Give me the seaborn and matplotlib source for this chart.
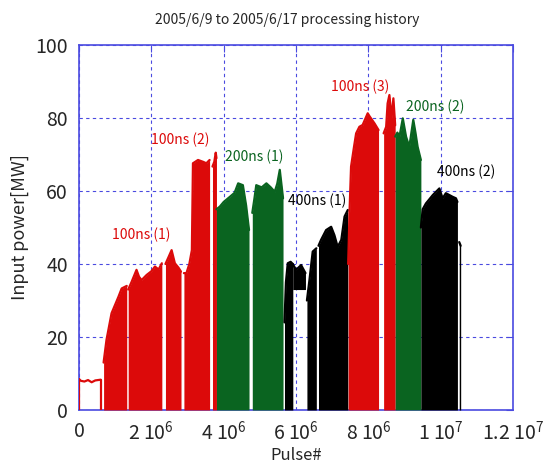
import matplotlib
matplotlib.use("Agg")
import matplotlib.pyplot as plt
import seaborn as sns
import pandas as pd

# envelope of each processing run
# x in units of 1e6 pulses, top = upper edge of the point cloud [MW]
run_names = ["R0", "R1", "R2", "R3", "R4", "R5", "G1a", "G1b",
             "B1a", "B1b", "B1c", "B1d", "R6", "R7", "G2", "B2", "B3"]
run_kind = ["red", "red", "red", "red", "red", "red", "green", "green",
            "black", "black", "black", "black", "red", "red", "green", "black", "black"]
run_x = [
    [0.0, 0.05, 0.15, 0.25, 0.35, 0.45, 0.60],
    [0.68, 0.76, 0.90, 1.09, 1.18, 1.32],
    [1.36, 1.45, 1.59, 1.66, 1.73, 1.87, 2.00, 2.10, 2.20, 2.29],
    [2.39, 2.48, 2.56, 2.65, 2.75, 2.82],
    [2.90, 2.97, 3.05, 3.12, 3.15, 3.29, 3.43, 3.52, 3.61],
    [3.69, 3.74, 3.78, 3.80],
    [3.80, 3.89, 4.00, 4.17, 4.30, 4.40, 4.53, 4.62, 4.70],
    [4.79, 4.85, 4.90, 5.05, 5.18, 5.30, 5.41, 5.48, 5.55, 5.64],
    [5.68, 5.72, 5.77, 5.85, 5.91],
    [5.91, 6.00, 6.14, 6.26],
    [6.30, 6.37, 6.46, 6.56],
    [6.62, 6.69, 6.83, 6.97, 7.06, 7.15, 7.25, 7.34, 7.43],
    [7.44, 7.48, 7.52, 7.60, 7.66, 7.75, 7.84, 7.98, 8.03, 8.17, 8.28],
    [8.42, 8.49, 8.53, 8.58, 8.64, 8.69, 8.74],
    [8.74, 8.80, 8.86, 8.95, 9.04, 9.13, 9.24, 9.30, 9.36, 9.45],
    [9.45, 9.50, 9.59, 9.78, 9.96, 10.05, 10.14, 10.33, 10.42, 10.46],
    [10.51, 10.55],
]
run_top = [
    [8.5, 8.0, 7.8, 8.2, 7.6, 8.1, 8.3],
    [13, 19.2, 26.5, 31, 33.3, 34],
    [33, 35, 38.4, 36.5, 35.6, 37, 38, 39.3, 38.5, 40.2],
    [40, 42, 43.8, 40.2, 39, 37.9],
    [37.5, 37.5, 40, 43.8, 67.6, 68.5, 68, 67.6, 68.5],
    [66.7, 68, 70.5, 69],
    [55, 55.7, 57, 58.4, 59.5, 62.1, 61.6, 56, 49.3],
    [54, 58, 61.6, 61, 62.1, 61, 59.8, 62, 65.8, 58],
    [24, 35, 40.2, 40.6, 40],
    [40, 38.4, 39.7, 37.5],
    [30, 35.6, 43.4, 44.3],
    [45, 46.6, 49.3, 50.2, 47.9, 44.7, 46.6, 53, 54.8],
    [40, 55, 66.7, 72, 75.8, 77.6, 78.1, 81.3, 80.5, 78.5, 76.7],
    [75.8, 77.6, 84, 86.3, 80, 85.4, 78],
    [74.9, 76, 75, 79.9, 74.9, 72.1, 79.5, 76, 72.1, 68.5],
    [50, 55, 56.6, 58.9, 60.7, 58, 59.4, 58.4, 58, 57],
    [46, 45],
]
# lower edge of the cloud (0 = reaches the axis), R0 is only a line
run_base = [None, 0, 0, 0, 0, 0, 0, 0, 0, 33, 0, 0, 0, 0, 0, 0, 0]

labels = ["100ns (1)", "100ns (2)", "200ns (1)", "400ns (1)",
          "100ns (3)", "200ns (2)", "400ns (2)"]
label_kind = ["red", "red", "green", "black", "red", "green", "black"]
label_xy = [(1.71, 47.9), (2.79, 74.0), (4.83, 69.3), (6.59, 57.3),
            (7.78, 88.5), (9.85, 83.0), (10.70, 65.3)]

xticks = [0, 2, 4, 6, 8, 10, 12]
xticklabels = ["0", "2 10$^{6}$", "4 10$^{6}$", "6 10$^{6}$", "8 10$^{6}$",
               "1 10$^{7}$", "1.2 10$^{7}$"]
yticks = [0, 20, 40, 60, 80, 100]

colors = {"red": "#dc0a0a", "green": "#0a6420", "black": "#000000"}
blue = "#4a4ae0"

rows = []
for name, kind, xs, ts in zip(run_names, run_kind, run_x, run_top):
    for x, t in zip(xs, ts):
        rows.append({"run": name, "kind": kind, "x": x, "top": t})
df = pd.DataFrame(rows)

sns.set_style("white")
plt.rcParams['font.family'] = ['Noto Sans CJK JP', 'DejaVu Sans']
plt.rcParams['mathtext.fontset'] = 'custom'
plt.rcParams['mathtext.rm'] = 'Noto Sans CJK JP'
plt.rcParams['mathtext.it'] = 'Noto Sans CJK JP'

fig = plt.figure(figsize=(5.47, 4.66), dpi=100)
ax = fig.add_axes([0.1444, 0.1202, 0.7937, 0.7832])

# fill the point clouds
for name, kind, base in zip(run_names, run_kind, run_base):
    d = df[df.run == name]
    if base is None:
        continue
    ax.fill_between(d.x, base, d.top, color=colors[kind], lw=0, zorder=3)

# outline of every run
palette = {n: colors[k] for n, k in zip(run_names, run_kind)}
sns.lineplot(data=df, x="x", y="top", hue="run", palette=palette, estimator=None,
             sort=False, legend=False, lw=1.6, ax=ax, zorder=4)
# first low-power run only drawn as a line, with its sides
d0 = df[df.run == "R0"]
ax.plot([d0.x.iloc[0]] * 2, [0, d0.top.iloc[0]], color=colors["red"], lw=1.6, zorder=4)
ax.plot([d0.x.iloc[-1]] * 2, [0, d0.top.iloc[-1]], color=colors["red"], lw=1.6, zorder=4)

for txt, kind, (x, y) in zip(labels, label_kind, label_xy):
    ax.text(x, y, txt, color=colors[kind], fontsize=10, ha="center", va="center", zorder=5)

ax.set_xlim(0, 12)
ax.set_ylim(0, 100)
ax.set_xticks(xticks)
ax.set_xticklabels(xticklabels)
ax.set_yticks(yticks)
ax.grid(True, color=blue, linestyle=(0, (3, 3)), linewidth=0.8)
ax.set_axisbelow(True)
for s in ax.spines.values():
    s.set_color(blue)
    s.set_linewidth(1.2)
ax.tick_params(direction="in", length=5, color=blue, top=True, right=True,
               labelsize=14, pad=8)

ax.set_xlabel("Pulse#", fontsize=12, va="center")
ax.set_ylabel("Input power[MW]", fontsize=13, va="center")
ax.xaxis.set_label_coords(0.499, -0.125)
ax.yaxis.set_label_coords(-0.136, 0.5)

fig.text(0.5247, 0.957, "2005/6/9 to 2005/6/17 processing history",
         ha="center", va="center", fontsize=10)

fig.savefig("out.png", dpi=100)
